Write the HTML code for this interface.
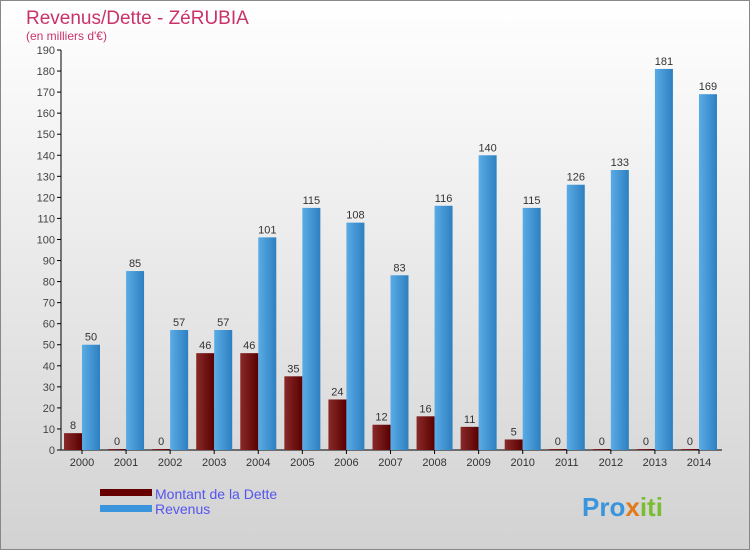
<!DOCTYPE html>
<html><head><meta charset="utf-8"><style>
body{margin:0;width:750px;height:550px;overflow:hidden}
svg text{font-family:"Liberation Sans",sans-serif}
</style></head><body>
<svg width="750" height="550" xmlns="http://www.w3.org/2000/svg">
<defs>
<linearGradient id="bg" x1="0" y1="0" x2="0" y2="1"><stop offset="0" stop-color="#ffffff"/><stop offset="1" stop-color="#d2d2d2"/></linearGradient>
<linearGradient id="gd" x1="0" y1="0" x2="1" y2="0"><stop offset="0" stop-color="#8a2a2a"/><stop offset="1" stop-color="#5a0000"/></linearGradient>
<linearGradient id="gr" x1="0" y1="0" x2="1" y2="0"><stop offset="0" stop-color="#5aace6"/><stop offset="1" stop-color="#2d7fc0"/></linearGradient>
</defs>
<rect x="0.5" y="0.5" width="749" height="549" fill="url(#bg)" stroke="#888"/>
<text x="26" y="24" font-size="19" fill="#c8336a">Revenus/Dette - ZéRUBIA</text>
<text x="26" y="40" font-size="12" fill="#c8336a">(en milliers d'€)</text>
<g id="axes"></g>
<g id="bars"></g>
<g>
<rect x="100" y="489" width="52" height="7" fill="#600"/>
<text x="155" y="499" font-size="14" fill="#5555ee">Montant de la Dette</text>
<rect x="100" y="505" width="52" height="7" fill="#3a95dc"/>
<text x="155" y="514" font-size="14" fill="#5555ee">Revenus</text>
</g>
<text x="582" y="516" font-size="26" font-weight="bold" fill="#3a95dc">Pro<tspan fill="#e07a1a">x</tspan><tspan fill="#7bbd32">iti</tspan></text>
</svg>
<script>
const years=["2000","2001","2002","2003","2004","2005","2006","2007","2008","2009","2010","2011","2012","2013","2014"];
const debt=[8,0,0,46,46,35,24,12,16,11,5,0,0,0,0];
const revenus=[50,85,57,57,101,115,108,83,116,140,115,126,133,181,169];
const yTicks=[0,10,20,30,40,50,60,70,80,90,100,110,120,130,140,150,160,170,180,190];
const NS="http://www.w3.org/2000/svg";
const y0=450,yTop=50,yMax=190,x0=82,step=44.07,bw=18;
const yS=v=>y0-(v/yMax)*(y0-yTop);
const xS=i=>x0+i*step;
function mk(t,a,p){const e=document.createElementNS(NS,t);for(const k in a)e.setAttribute(k,a[k]);p.appendChild(e);return e;}
const ax=document.getElementById('axes'),bars=document.getElementById('bars');
const yl=mk('line',{x1:61,y1:yTop,x2:61,y2:y0,stroke:'#000'},ax);


const xl=mk('line',{x1:61,y1:y0,x2:722,y2:y0,stroke:'#000'},ax);


yTicks.forEach(v=>{
 mk('line',{x1:57,x2:61,y1:yS(v),y2:yS(v),stroke:'#000'},ax);
 const t=mk('text',{x:55,y:yS(v)+4,'font-size':11,fill:'#444','text-anchor':'end'},ax);t.textContent=v;
 
 
});
years.forEach((y,i)=>{
 const cx=xS(i);
 mk('line',{x1:cx,x2:cx,y1:y0,y2:y0+4,stroke:'#000'},ax);
 const t=mk('text',{x:cx,y:y0+16,'font-size':11,fill:'#333','text-anchor':'middle'},ax);t.textContent=y;
 
 
 const dh=Math.max(1,y0-yS(debt[i]));
 const d=mk('rect',{x:cx-bw,y:y0-dh,width:bw,height:dh,fill:'url(#gd)'},bars);
 
 
 const dl=mk('text',{x:cx-bw/2,y:y0-dh-4,'font-size':11,fill:'#333','text-anchor':'middle'},bars);dl.textContent=debt[i];
 
 
 const r=mk('rect',{x:cx,y:yS(revenus[i]),width:bw,height:y0-yS(revenus[i]),fill:'url(#gr)'},bars);
 
 
 const rl=mk('text',{x:cx+bw/2,y:yS(revenus[i])-4,'font-size':11,fill:'#333','text-anchor':'middle'},bars);rl.textContent=revenus[i];
 
 
});
</script>
</body></html>
